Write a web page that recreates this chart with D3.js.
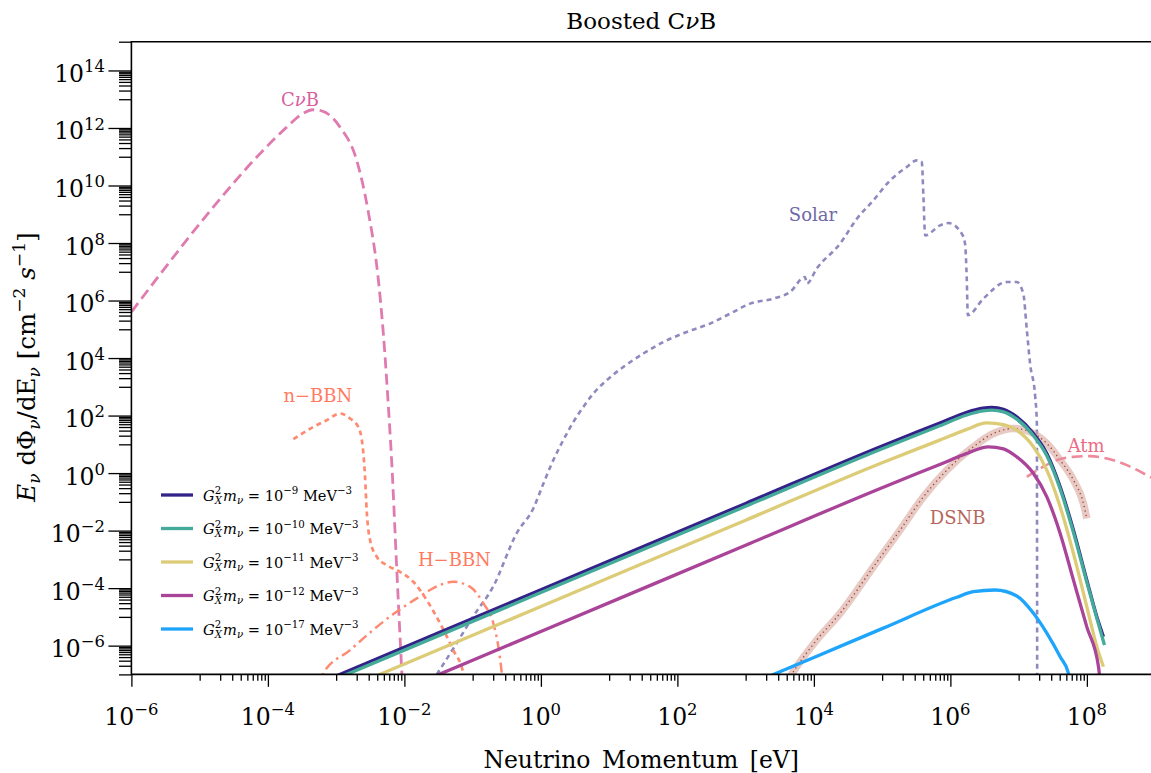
<!DOCTYPE html>
<html>
<head>
<meta charset="utf-8">
<script src="https://cdn.jsdelivr.net/npm/d3@7"></script>
<style>
  body { margin: 0; background: #fff; }
  text { font-family: "DejaVu Serif", serif; }
</style>
</head>
<body>
<svg id="chart" width="1151" height="773"></svg>
<script>
// ---- data: [momentum (eV), E dPhi/dE (cm^-2 s^-1)] ----
const cnubData = [
  [1e-6, 4.0e5], [2.9e-6, 1.1e7], [1.57e-5, 1.74e9], [8.5e-5, 1.66e11], [1.89e-4, 1.07e12],
  [3.27e-4, 3.2e12], [4.58e-4, 4.3e12], [6.4e-4, 3.8e12], [1.14e-3, 1.07e12], [2.0e-3, 7.5e10],
  [2.93e-3, 1.37e9], [4.11e-3, 6.6e6], [4.91e-3, 7.3e4], [5.75e-3, 3.4e2], [6.5e-3, 2.8],
  [7.7e-3, 5.5e-4], [9.2e-3, 9.5e-8]
];

const solarData = [
  [2.98e-2, 1e-7], [5.85e-2, 1.23e-6], [0.101, 1.01e-5], [0.199, 1.11e-4], [0.443, 8.2e-3],
  [0.774, 5.9e-2], [1.09, 0.436], [1.52, 2.82], [2.13, 14], [2.99, 60], [4.19, 200],
  [5.87, 585], [9.2, 1.69e3], [16.1, 4.9e3], [31.7, 1.44e4], [62.4, 3.6e4], [137, 8.1e4],
  [301, 1.58e5], [592, 3.5e5], [1.16e3, 7.8e5], [2.55e3, 1.17e6], [4.48e3, 1.98e6],
  [7.4e3, 6.6e6], [7.9e3, 3.9e6], [1.1e4, 1.29e7], [2.42e4, 9.5e7], [4.26e4, 7.0e8],
  [7.45e4, 3.05e9], [1.31e5, 1.51e10], [2.3e5, 4.4e10], [3.22e5, 7.5e10], [3.81e5, 6.5e10],
  [4.03e5, 3.96e9], [4.27e5, 1.85e8], [7.06e5, 4.1e8], [9.35e5, 4.95e8], [1.47e6, 2.12e8],
  [1.64e6, 9.5e7], [1.74e6, 5.1e6], [1.8e6, 3.1e5], [3.05e6, 1.17e6], [6.7e6, 4.4e6],
  [9.4e6, 4.4e6], [1.17e7, 1.75e6], [1.32e7, 9.3e4], [1.47e7, 6.5e3], [1.75e7, 446],
  [1.85e7, 53], [1.87e7, 1e-8]
];

const nbbnData = [
  [2.36e-4, 15.1], [4.64e-4, 40.5], [7.28e-4, 69], [1.14e-3, 118], [1.6e-3, 79],
  [2.11e-3, 40.5], [2.45e-3, 8.2], [2.65e-3, 0.74], [2.8e-3, 5.15e-2], [3.14e-3, 4.7e-3],
  [3.94e-3, 1.23e-3], [5.5e-3, 6.3e-4], [8.6e-3, 3.7e-4], [1.35e-2, 1.66e-4],
  [2.12e-2, 3.85e-5], [3.33e-2, 6.0e-6], [5.2e-2, 7.0e-7], [7.3e-2, 1.09e-7], [8e-2, 3e-8]
];

const hbbnData = [
  [5.5e-4, 3e-8], [6.5e-4, 1.09e-7], [1.6e-3, 7.0e-7], [3.47e-3, 3.5e-6], [7.7e-3, 1.51e-5],
  [1.52e-2, 4.4e-5], [3.33e-2, 1.28e-4], [5.2e-2, 1.66e-4], [9.2e-2, 1.11e-4], [0.144, 2.95e-5],
  [0.201, 6.0e-6], [0.238, 9.2e-7], [0.267, 1.09e-7], [0.28, 3e-8]
];

const atmData = [
  [1.32e7, 0.74], [2.07e7, 1.45], [3.63e7, 2.82], [6.36e7, 3.66], [1.11e8, 3.88],
  [1.96e8, 3.23], [3.85e8, 1.89], [7.55e8, 0.85], [1.18e9, 0.48]
];

const dsnbData = [
  [4.2e3, 6.5e-8], [5.6e3, 1.85e-7], [1.1e4, 1.57e-6], [2.42e4, 1.33e-5], [7.45e4, 5.5e-4],
  [1.83e5, 1.04e-2], [4.03e5, 0.149], [8.85e5, 1.26], [2.17e6, 8.2], [4.27e6, 23.8],
  [8.4e6, 35.6], [1.47e7, 27.1], [2.59e7, 10.7], [4.06e7, 2.82], [6.36e7, 0.57],
  [8.9e7, 8.8e-2], [9.98e7, 2.65e-2]
];

// boosted CvB, one per coupling G_X^2 m_nu
const g9Data = [
  [1e-3, 8.8e-8], [1, 8.8e-5], [1e3, 8.8e-2], [1e5, 8.8], [7e5, 55], [1.74e6, 130], [3e6, 180],
  [4.05e6, 191], [6e6, 165], [9.4e6, 90], [1.65e7, 23.8], [2.59e7, 4.8], [4.06e7, 0.333],
  [6.36e7, 1.04e-2], [9.98e7, 1.9e-4], [1.4e8, 1.01e-5], [1.75e8, 2.04e-6]
];
const g10Data = [
  [1e-3, 7e-8], [1, 7e-5], [1e3, 7e-2], [1e5, 7.0], [7e5, 44], [1.74e6, 105], [3e6, 145],
  [4.1e6, 155], [6e6, 135], [9.4e6, 75], [1.65e7, 20], [2.59e7, 4.0], [4.06e7, 0.28],
  [6.36e7, 8.5e-3], [9.98e7, 1.6e-4], [1.4e8, 9e-6], [1.81e8, 1.05e-6]
];
const g11Data = [
  [4e-3, 9.2e-8], [1, 2.3e-5], [1e3, 2.3e-2], [1e5, 2.3], [7e5, 14], [1.74e6, 33], [3.4e6, 55.7],
  [6e6, 48], [9.4e6, 31], [1.65e7, 8.2], [2.59e7, 1.26], [4.06e7, 6.7e-2], [6.36e7, 1.6e-3],
  [9.98e7, 2.25e-5], [1.4e8, 9.2e-7], [1.75e8, 1.85e-7]
];
const g12Data = [
  [3e-2, 9.3e-8], [1, 3.1e-6], [1e3, 3.1e-3], [1e5, 0.31], [7e5, 2.0], [1.74e6, 4.8], [3.6e6, 8.2],
  [6e6, 7.0], [9.4e6, 3.66], [1.65e7, 0.97], [2.59e7, 0.149], [4.06e7, 8e-3], [6.36e7, 1.9e-4],
  [9.98e7, 4.5e-6], [1.48e8, 1.85e-7], [1.6e8, 3e-8]
];
const g17Data = [
  [2.4e3, 9.4e-8], [1e4, 3.9e-7], [1e5, 3.9e-6], [1.24e6, 4.8e-5], [2.17e6, 7.5e-5],
  [4.52e6, 8.6e-5], [9.4e6, 5.3e-5], [1.65e7, 1.33e-5], [2.59e7, 2.7e-6], [4.06e7, 4.1e-7],
  [5.37e7, 1.09e-7], [6.2e7, 2e-8]
];

const boostedExps = ["−9", "−10", "−11", "−12", "−17"];
const boostedColours = ["#332288", "#44aa99", "#ddcc77", "#aa4499", "#1ea5fb"];

// tick labels (powers of ten)
const xTickExps = [-6, -4, -2, 0, 2, 4, 6, 8];
const yTickExps = [-6, -4, -2, 0, 2, 4, 6, 8, 10, 12, 14];

// ---- layout ----
const svg = d3.select("#chart");
const plotLeft = 131.4, plotRight = 1151, plotTop = 41.7, plotBottom = 674.4;

const x = d3.scaleLog().domain([1e-6, 8.7e8]).range([plotLeft, plotRight]);
const y = d3.scaleLog().domain([1e-7, 1e15]).range([plotBottom, plotTop]);

const line = d3.line()
  .x(function(d) { return x(d[0]); })
  .y(function(d) { return y(d[1]); })
  .curve(d3.curveMonotoneX);

function minus(n) { return n < 0 ? "−" + Math.abs(n) : String(n); }

// rich text: parts = [text, kind, dx]; kind has "i" (italic), "sup" or "sub"
function rich(sel, parts, size) {
  let off = 0;
  parts.forEach(function(p) {
    let kind = p[1] || "";
    let target = 0, fs = size;
    if (kind.indexOf("sup") >= 0) { target = -size * 0.42; fs = size * 0.7; }
    if (kind.indexOf("sub") >= 0) { target = size * 0.22; fs = size * 0.7; }
    let ts = sel.append("tspan")
      .attr("dy", target - off)
      .attr("font-size", fs)
      .text(p[0]);
    if (kind.indexOf("i") >= 0) ts.attr("font-style", "italic");
    if (p[2]) ts.attr("dx", p[2]);
    off = target;
  });
}

// ---- plot area ----
svg.append("clipPath").attr("id", "plotClip")
  .append("rect")
    .attr("x", plotLeft).attr("y", plotTop)
    .attr("width", plotRight - plotLeft).attr("height", plotBottom - plotTop);

const plot = svg.append("g").attr("clip-path", "url(#plotClip)");

// background fluxes
plot.append("path").datum(cnubData)
  .attr("d", line).attr("fill", "none")
  .attr("stroke", "#e07bb0").attr("stroke-width", 2.8).attr("stroke-dasharray", "11,5.5");

plot.append("path").datum(solarData)
  .attr("d", line).attr("fill", "none")
  .attr("stroke", "#8e8abf").attr("stroke-width", 2.6).attr("stroke-dasharray", "5,4");

plot.append("path").datum(nbbnData)
  .attr("d", line).attr("fill", "none")
  .attr("stroke", "#ff8a72").attr("stroke-width", 2.7).attr("stroke-dasharray", "5,4");

plot.append("path").datum(hbbnData)
  .attr("d", line).attr("fill", "none")
  .attr("stroke", "#ff8a72").attr("stroke-width", 2.5).attr("stroke-dasharray", "10,4.5,2.5,4.5");

plot.append("path").datum(dsnbData)
  .attr("d", line).attr("fill", "none")
  .attr("stroke", "#d9a79d").attr("stroke-width", 7.5).attr("stroke-opacity", 0.6);
plot.append("path").datum(dsnbData)
  .attr("d", line).attr("fill", "none")
  .attr("stroke", "#a8473a").attr("stroke-width", 1.4).attr("stroke-dasharray", "1.3,3.2");

plot.append("path").datum(atmData)
  .attr("d", line).attr("fill", "none")
  .attr("stroke", "#ef8a9c").attr("stroke-width", 2.6).attr("stroke-dasharray", "11,5.5");

// boosted spectra
const boosted = [g9Data, g10Data, g11Data, g12Data, g17Data];
plot.selectAll(".boosted")
  .data(boosted)
  .enter().append("path")
    .classed("boosted", true)
    .attr("d", line)
    .attr("fill", "none")
    .attr("stroke", function(d, i) { return boostedColours[i]; })
    .attr("stroke-width", 3.3);

// series labels (anchored at a momentum / flux position)
const seriesLabels = [
  { parts: [["C"], ["ν", "i"], ["B"]], e: 2.95e-4, f: 5.6e12, c: "#d9609f" },
  { parts: [["Solar"]], e: 9.7e3, f: 5.7e8, c: "#6e6aa6" },
  { parts: [["n−BBN"]], e: 5.4e-4, f: 3.0e2, c: "#ff7a60" },
  { parts: [["H−BBN"]], e: 5.4e-2, f: 6.1e-4, c: "#ff7a60" },
  { parts: [["DSNB"]], e: 1.28e6, f: 1.75e-2, c: "#b8665a" },
  { parts: [["Atm"]], e: 9.75e7, f: 5.56, c: "#ec6c85" }
];
seriesLabels.forEach(function(s) {
  let t = svg.append("text")
    .attr("x", x(s.e)).attr("y", y(s.f))
    .attr("text-anchor", "middle")
    .attr("fill", s.c);
  rich(t, s.parts, 18);
});

// ---- axes ----
const xMinor = [], yMinor = [];
for (let e = -5; e <= 7; e += 2) for (let k = 1; k <= 9; k++) xMinor.push(k * Math.pow(10, e));
for (let e = -7; e <= 13; e += 2) for (let k = 1; k <= 9; k++) yMinor.push(k * Math.pow(10, e));
yMinor.push(1e15);
const xMajor = xTickExps.map(function(e) { return Math.pow(10, e); });
const yMajor = yTickExps.map(function(e) { return Math.pow(10, e); });

function styleAxis(g) {
  g.select(".domain").remove();
  g.selectAll(".tick line").attr("stroke", "#000").attr("stroke-width", 1.3);
}

svg.append("g").attr("transform", "translate(0," + plotBottom + ")")
  .call(d3.axisBottom(x).tickValues(xMinor).tickSize(6.4).tickFormat(""))
  .call(styleAxis);
svg.append("g").attr("transform", "translate(0," + plotBottom + ")")
  .call(d3.axisBottom(x).tickValues(xMajor).tickSize(12.4).tickFormat(""))
  .call(styleAxis);
svg.append("g").attr("transform", "translate(" + plotLeft + ",0)")
  .call(d3.axisLeft(y).tickValues(yMinor).tickSize(12.4).tickFormat(""))
  .call(styleAxis);
svg.append("g").attr("transform", "translate(" + plotLeft + ",0)")
  .call(d3.axisLeft(y).tickValues(yMajor).tickSize(23).tickFormat(""))
  .call(styleAxis);

// spines: left, bottom, top
svg.append("path")
  .attr("d", "M" + plotRight + "," + plotTop + "H" + plotLeft + "V" + plotBottom + "H" + plotRight)
  .attr("fill", "none").attr("stroke", "#000").attr("stroke-width", 1.6);

// tick labels
xTickExps.forEach(function(e) {
  let t = svg.append("text")
    .attr("x", x(Math.pow(10, e))).attr("y", 725)
    .attr("text-anchor", "middle").attr("fill", "#000");
  rich(t, [["10"], [minus(e), "sup"]], 23.5);
});
yTickExps.forEach(function(e) {
  let t = svg.append("text")
    .attr("x", 105).attr("y", y(Math.pow(10, e)) + 11.5)
    .attr("text-anchor", "end").attr("fill", "#000");
  rich(t, [["10"], [minus(e), "sup"]], 23.5);
});

// axis titles
svg.append("text")
  .attr("x", (plotLeft + plotRight) / 2).attr("y", 768)
  .attr("text-anchor", "middle").attr("font-size", 23.5)
  .attr("word-spacing", 4)
  .text("Neutrino Momentum [eV]");

let yTitle = svg.append("text")
  .attr("transform", "translate(35,367) rotate(-90)")
  .attr("text-anchor", "middle");
rich(yTitle, [["E", "i"], ["ν", "subi"], [" dΦ"], ["ν", "subi"], ["/dE"], ["ν", "subi"],
  [" [cm"], ["−2", "sup"], [" "], ["s", "i"], ["−1", "sup"], ["]"]], 24.5);

let title = svg.append("text")
  .attr("x", (plotLeft + plotRight) / 2).attr("y", 29)
  .attr("text-anchor", "middle");
rich(title, [["Boosted C"], ["ν", "i"], ["B"]], 23);

// ---- legend ----
const legend = svg.append("g");
boostedExps.forEach(function(e, i) {
  let ly = 495 + i * 33.5;
  legend.append("line")
    .attr("x1", 161).attr("x2", 193).attr("y1", ly).attr("y2", ly)
    .attr("stroke", boostedColours[i]).attr("stroke-width", 3.3);
  let t = legend.append("text").attr("x", 203).attr("y", ly + 5.5).attr("fill", "#000");
  rich(t, [["G", "i"], ["2", "sup"], ["X", "subi", -6.4], ["m", "i", 1], ["ν", "subi"],
    [" = 10"], [e, "sup"], [" MeV"], ["−3", "sup"]], 14.6);
});
</script>
</body>
</html>
